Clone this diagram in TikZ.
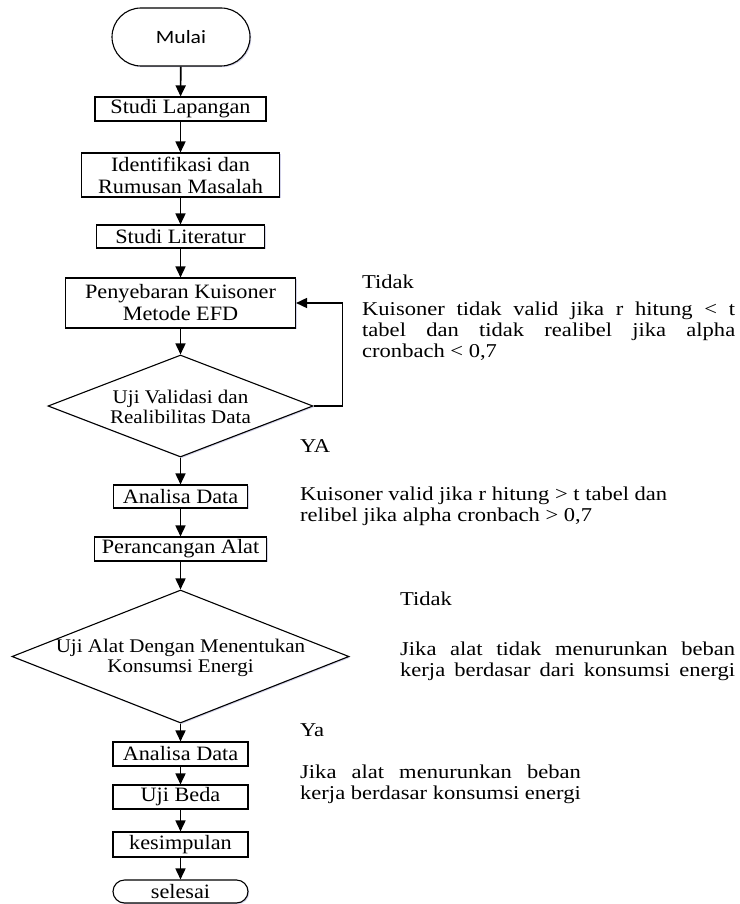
\documentclass[tikz,border=0pt]{standalone}
\usepackage{fontspec}
\usepackage{calc}
\setmainfont{Liberation Serif}
\newfontfamily\boxfont[FakeStretch=1.09]{Liberation Serif}
\newfontfamily\parafont[FakeStretch=1.15]{Liberation Serif}
\newfontfamily\termfont[FakeStretch=1.15]{Carlito}
\usetikzlibrary{arrows.meta,shapes.geometric,shadows}
\tikzset{
  myshadow/.style={drop shadow={opacity=0.25, fill=blue!35!gray, shadow xshift=1.2pt, shadow yshift=-1.2pt}},
  proc/.style={draw, line width=1.1pt, fill=white, inner sep=0pt, align=center,
    font=\boxfont\fontsize{20.4}{22}\selectfont, myshadow},
  dec/.style={draw, diamond, inner sep=0pt, line width=1.1pt, fill=white, myshadow},
  dtext/.style={inner sep=0pt, align=center, font=\boxfont\fontsize{19.3}{20}\selectfont},
  flow/.style={line width=1.6pt, -{Triangle[length=11pt,width=10pt]}},
  note/.style={anchor=north west, inner sep=0pt, align=left, font=\parafont\fontsize{19.6}{21}\selectfont},
  lbl/.style={anchor=base west, inner sep=0pt, font=\parafont\fontsize{19.6}{21}\selectfont},
}
\begin{document}
\begin{tikzpicture}[x=1pt,y=-1pt]
\useasboundingbox (0,0) rectangle (739,904);
\fill[white] (0,0) rectangle (739,904);

\node[proc, rounded corners=29pt, minimum width=138pt, minimum height=58pt,
  font=\termfont\fontsize{18.8}{20}\selectfont] (mulai) at (181,37) {Mulai};
\node[proc, minimum width=171pt, minimum height=24pt] (sl) at (180.5,109) {Studi Lapangan};
\node[proc, minimum width=198pt, minimum height=44pt] (id) at (180.5,175) {Identifikasi dan\\Rumusan Masalah};
\node[proc, minimum width=168pt, minimum height=23pt] (lit) at (180.5,236.5) {Studi Literatur};
\node[proc, minimum width=230pt, minimum height=50pt] (pen) at (180.5,303) {Penyebaran Kuisoner\\Metode EFD};
\node[dec, minimum width=265pt, minimum height=102pt] (d1) at (180.5,406) {};
\node[dtext] (d1t) at (180.5,407) {Uji Validasi dan\\Realibilitas Data};
\node[proc, minimum width=134pt, minimum height=23pt] (ad1) at (180.5,496.5) {Analisa Data};
\node[proc, minimum width=172pt, minimum height=24pt] (pa) at (180.5,549) {Perancangan Alat};
\node[dec, minimum width=337pt, minimum height=133pt] (d2) at (180.5,656.5) {};
\node[dtext] (d2t) at (180.5,658) {Uji Alat Dengan Menentukan\\Konsumsi Energi};
\node[proc, minimum width=135pt, minimum height=24pt] (ad2) at (180.5,754) {Analisa Data};
\node[proc, minimum width=135pt, minimum height=24pt] (ub) at (180.5,797) {Uji Beda};
\node[proc, minimum width=135pt, minimum height=25pt] (ks) at (180.5,844.5) {kesimpulan};
\node[proc, rounded corners=11.5pt, minimum width=135pt, minimum height=23pt] (sel) at (180.5,891.5) {selesai};

\draw[flow] (mulai) -- (sl);
\draw[flow] (sl) -- (id);
\draw[flow] (id) -- (lit);
\draw[flow] (lit) -- (pen);
\draw[flow] (pen) -- (d1);
\draw[flow] (d1.east) -- ++(29,0) |- (pen.east);
\draw[flow] (d1) -- (ad1);
\draw[flow] (ad1) -- (pa);
\draw[flow] (pa) -- (d2);
\draw[flow] (d2) -- (ad2);
\draw[flow] (ad2) -- (ub);
\draw[flow] (ub) -- (ks);
\draw[flow] (ks) -- (sel);

\node[lbl] (t1) at (362,288) {Tidak};
\node[note] (n1) at (362,302) {\makebox[373pt][s]{Kuisoner tidak valid jika r hitung < t}\\
  \makebox[373pt][s]{tabel dan tidak realibel jika alpha}\\
  cronbach < 0,7};
\node[lbl] (ya1) at (300,452) {YA};
\node[note] (n2) at (300,487) {Kuisoner valid jika r hitung > t tabel dan\\relibel jika alpha cronbach > 0,7};
\node[lbl] (t2) at (400,605) {Tidak};
\node[note] (n3) at (400,642) {\makebox[335pt][s]{Jika alat tidak menurunkan beban}\\
  \makebox[335pt][s]{kerja berdasar dari konsumsi energi}};
\node[lbl] (ya2) at (300,736) {Ya};
\node[note] (n4) at (300,765) {\makebox[\widthof{kerja berdasar konsumsi energi}][s]{Jika alat menurunkan beban}\\
  kerja berdasar konsumsi energi};
\end{tikzpicture}
\end{document}
